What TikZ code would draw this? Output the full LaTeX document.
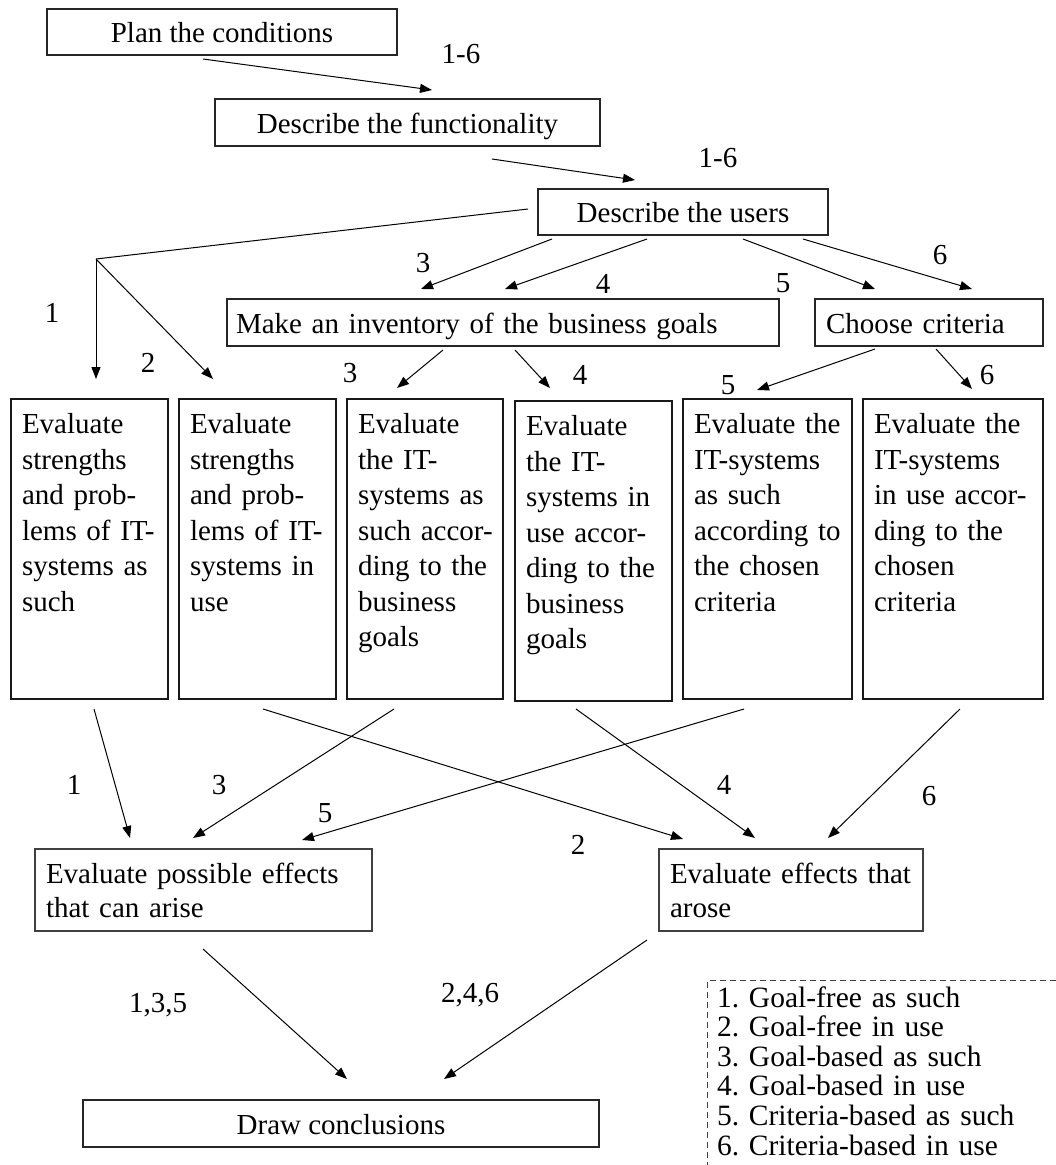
\documentclass[tikz,border=0pt]{standalone}
\usepackage{fontspec}
\setmainfont{Liberation Serif}
\usetikzlibrary{arrows.meta}

\begin{document}
\frenchspacing
\begin{tikzpicture}[x=1pt,y=-1pt,
  every node/.style={font=\fontsize{29}{35.5}\selectfont, outer sep=0pt},
  box/.style={draw=black!85, line width=1.1pt, inner sep=0pt, text height=27pt, text depth=6pt},
  colbox/.style={draw=black!90, line width=1.9pt, inner sep=0pt, minimum height=300pt, anchor=north west},
  effbox/.style={draw=black!75, line width=1.1pt, inner sep=0pt, minimum height=82pt, anchor=north west},
  boxtext/.style={anchor=base west, inner sep=0pt, text width=420pt, align=left},
  num/.style={inner sep=0pt, text height=19.5pt, text depth=0pt},
  flow/.style={line width=1pt, -{Triangle[length=12pt,width=9pt]}},
]
\useasboundingbox (0,0) rectangle (1056,1165);

% planning steps
\node[box, minimum width=350pt, minimum height=46pt] (plan) at (222,32) {Plan the conditions};
\node[box, minimum width=385pt, minimum height=47pt] (func) at (407.5,122.5) {Describe the functionality};
\node[box, minimum width=290pt, minimum height=46pt] (users) at (683,212) {Describe the users};
\node[box, text width=534pt, inner xsep=9pt, align=left, minimum height=47pt] (inv) at (503,322.5) {Make an inventory of the business goals};
\node[box, text width=206pt, inner xsep=11pt, align=left, minimum height=47pt] (crit) at (929,322.5) {Choose criteria};

% the six evaluation columns
\node[colbox, minimum width=157pt] (e1) at (11,399) {};
\node[colbox, minimum width=157pt] (e2) at (179,399) {};
\node[colbox, minimum width=156pt] (e3) at (347,399) {};
\node[colbox, minimum width=157pt] (e4) at (515,401) {};
\node[colbox, minimum width=169pt] (e5) at (683,399) {};
\node[colbox, minimum width=180pt] (e6) at (863,399) {};
\node[boxtext] (e1t) at ([shift={(11,34.5)}]e1.north west) {Evaluate\\strengths\\and prob-\\lems of IT-\\systems as\\such};
\node[boxtext] (e2t) at ([shift={(11,34.5)}]e2.north west) {Evaluate\\strengths\\and prob-\\lems of IT-\\systems in\\use};
\node[boxtext] (e3t) at ([shift={(11,34.5)}]e3.north west) {Evaluate\\the IT-\\systems as\\such accor-\\ding to the\\business\\goals};
\node[boxtext] (e4t) at ([shift={(11,34.5)}]e4.north west) {Evaluate\\the IT-\\systems in\\use accor-\\ding to the\\business\\goals};
\node[boxtext] (e5t) at ([shift={(11,34.5)}]e5.north west) {Evaluate the\\IT-systems\\as such\\according to\\the chosen\\criteria};
\node[boxtext] (e6t) at ([shift={(11,34.5)}]e6.north west) {Evaluate the\\IT-systems\\in use accor-\\ding to the\\chosen\\criteria};

% effects and conclusions
\node[effbox, minimum width=337pt] (eff1) at (35,849) {};
\node[boxtext, font=\fontsize{29}{34}\selectfont] (eff1t) at ([shift={(11,34)}]eff1.north west) {Evaluate possible effects\\that can arise};
\node[effbox, minimum width=264pt] (eff2) at (659,849) {};
\node[boxtext, font=\fontsize{29}{34}\selectfont] (eff2t) at ([shift={(11,34)}]eff2.north west) {Evaluate effects that\\arose};
\node[box, minimum width=516pt, minimum height=47pt] (concl) at (341,1123.5) {Draw conclusions};

% legend
\node[boxtext, text width=330pt, font=\fontsize{29.5}{29.6}\selectfont] (legend) at (717,1007)
  {1. Goal-free as such\\2. Goal-free in use\\3. Goal-based as such\\4. Goal-based in use\\5. Criteria-based as such\\6. Criteria-based in use};
\coordinate (legright) at (1056,980.5);
\coordinate (legcorner) at (707,980.5);
\coordinate (legbottom) at (707,1165);
\draw[black!75, line width=0.8pt, dash pattern=on 6.5pt off 3.5pt] (legright) -- (legcorner) -- (legbottom);

% path labels
\node[num] (n16a) at (461,54) {1-6};
\node[num] (n16b) at (718,158) {1-6};
\node[num] (n1a) at (52,313) {1};
\node[num] (n2a) at (148,363) {2};
\node[num] (n3a) at (423,263) {3};
\node[num] (n4a) at (603,284) {4};
\node[num] (n5a) at (783,283) {5};
\node[num] (n6a) at (940,255) {6};
\node[num] (n3b) at (350,373) {3};
\node[num] (n4b) at (580,375) {4};
\node[num] (n5b) at (728,385) {5};
\node[num] (n6b) at (987,375) {6};
\node[num] (n1c) at (74,785) {1};
\node[num] (n3c) at (219,785) {3};
\node[num] (n5c) at (325,813) {5};
\node[num] (n4c) at (724,785) {4};
\node[num] (n6c) at (929,796) {6};
\node[num] (n2c) at (578,845) {2};
\node[num] (n135) at (158,1003) {1,3,5};
\node[num] (n246) at (470,993) {2,4,6};

% connectors
\coordinate (split) at (96,259);
\draw[flow] ([shift={(156,4)}]plan.south west) -- ([shift={(217,-9)}]func.north west);
\draw[flow] ([shift={(277,13)}]func.south west) -- ([shift={(97,-9)}]users.north west);
\draw[line width=1pt] ([shift={(-10,20)}]users.north west) -- (split);
\draw[flow] (split) -- ([shift={(85,-20)}]e1.north west);
\draw[flow] (split) -- ([shift={(34,-20)}]e2.north west);
\draw[flow] ([shift={(14,4)}]users.south west) -- ([shift={(194,-10)}]inv.north west);
\draw[flow] ([shift={(109,4)}]users.south west) -- ([shift={(278,-10)}]inv.north west);
\draw[flow] ([shift={(205,4)}]users.south west) -- ([shift={(60,-10)}]crit.north west);
\draw[flow] ([shift={(265,4)}]users.south west) -- ([shift={(157,-10)}]crit.north west);
\draw[flow] ([shift={(216,4)}]inv.south west) -- ([shift={(50,-11)}]e3.north west);
\draw[flow] ([shift={(288,4)}]inv.south west) -- ([shift={(35,-13)}]e4.north west);
\draw[flow] ([shift={(60,3)}]crit.south west) -- ([shift={(74,-9)}]e5.north west);
\draw[flow] ([shift={(121,3)}]crit.south west) -- ([shift={(109,-10)}]e6.north west);
\draw[flow] ([shift={(83,10)}]e1.south west) -- ([shift={(95,-11)}]eff1.north west);
\draw[flow] ([shift={(84,10)}]e2.south west) -- ([shift={(24,-10)}]eff2.north west);
\draw[flow] ([shift={(47,10)}]e3.south west) -- ([shift={(158,-11)}]eff1.north west);
\draw[flow] ([shift={(61,8)}]e4.south west) -- ([shift={(96,-11)}]eff2.north west);
\draw[flow] ([shift={(61,10)}]e5.south west) -- ([shift={(267,-9)}]eff1.north west);
\draw[flow] ([shift={(97,10)}]e6.south west) -- ([shift={(169,-11)}]eff2.north west);
\draw[flow] ([shift={(168,18)}]eff1.south west) -- ([shift={(264,-21)}]concl.north west);
\draw[flow] ([shift={(-12,9)}]eff2.south west) -- ([shift={(361,-21)}]concl.north west);
\end{tikzpicture}
\end{document}
